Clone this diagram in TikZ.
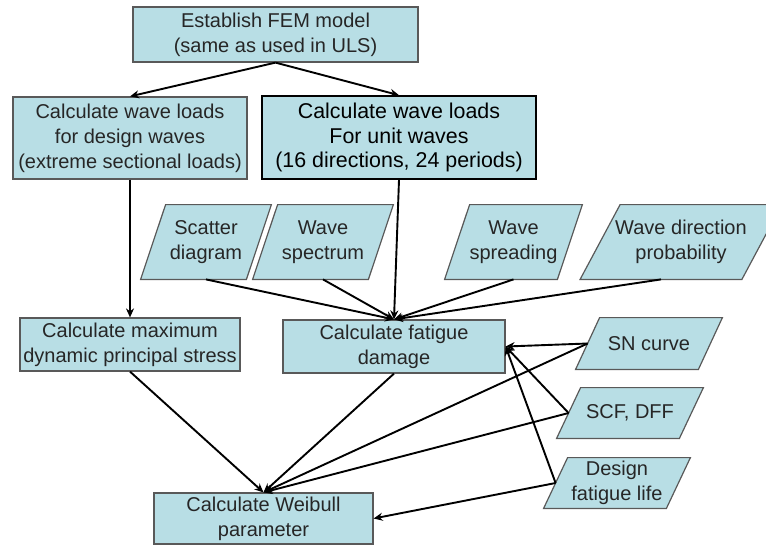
\documentclass[tikz,border=0pt]{standalone}
\usepackage{fontspec}
\setmainfont{Liberation Sans}
\usetikzlibrary{arrows.meta}
\usetikzlibrary{backgrounds}
\definecolor{mfill}{rgb}{0.72, 0.87, 0.9}
\definecolor{medge}{rgb}{0.35, 0.35, 0.35}
\definecolor{mtext}{rgb}{0.15, 0.15, 0.15}
\tikzset{proc/.style = {draw = medge, fill = mfill, text = mtext, line width = 0.6pt, inner sep = 0, align = center, font = \fontsize{10}{12.5}\selectfont}}
\tikzset{data/.style = {text = mtext, inner sep = 0, align = center, font = \fontsize{10}{12.5}\selectfont}}
\tikzset{slab/.style = {draw = medge, fill = mfill, line width = 0.6pt, line join = miter}}
\tikzset{link/.style = {line width = 0.95pt, -{Stealth[length = 4.5pt, width = 4pt]}}}

\begin{document}
\begin{tikzpicture}[x = 0.5pt, y = -0.5pt]
          \useasboundingbox (0, 0) rectangle (766, 547);
          % process boxes
          \node [proc, minimum width = 142.5pt, minimum height = 27.5pt] (fem) at (275.5, 34.5) {Establish FEM model\\(same as used in ULS)};
          \node [proc, minimum width = 117pt, minimum height = 41pt] (dsgn) at (130, 138) {Calculate wave loads\\for design waves\\(extreme sectional loads)};
          \node [proc, draw = black, text = black, line width = 0.8pt, font = \fontsize{10.7}{12.3}\selectfont, minimum width = 137pt, minimum height = 41.5pt] (unit) at (399, 137.5) {Calculate wave loads\\For unit waves\\(16 directions, 24 periods)};
          \node [proc, minimum width = 110pt, minimum height = 26.5pt] (maxs) at (130, 344.5) {Calculate maximum\\dynamic principal stress};
          \node [proc, minimum width = 111pt, minimum height = 26.5pt] (fdmg) at (394, 346.5) {Calculate fatigue\\damage};
          \node [proc, minimum width = 109.5pt, minimum height = 25.5pt] (weib) at (263.5, 518.5) {Calculate Weibull\\parameter};
          % input data
          \node [data, minimum width = 52.5pt, minimum height = 37pt] (scat) at (206, 242) {Scatter\\diagram};
          \node [data, minimum width = 57.5pt, minimum height = 37pt] (spec) at (323, 242) {Wave\\spectrum};
          \node [data, minimum width = 56pt, minimum height = 37pt] (sprd) at (513.5, 242) {Wave\\spreading};
          \node [data, minimum width = 80.5pt, minimum height = 37pt] (wdir) at (681, 242) {Wave direction\\probability};
          \node [data, minimum width = 61pt, minimum height = 25.5pt] (sncv) at (649, 343.5) {SN curve};
          \node [data, minimum width = 61pt, minimum height = 25pt] (scfd) at (630, 413) {SCF, DFF};
          \node [data, minimum width = 61pt, minimum height = 25pt] (dfl) at (617, 483) {Design\\fatigue life};
          \begin{scope}[on background layer]
            \foreach \n/\o in {scat/6.25pt, spec/6.25pt, sprd/6.25pt, wdir/10pt, sncv/6pt, scfd/6pt, dfl/6pt} {
              \draw [slab] ([xshift = -\o]\n.south west) -- ([xshift = \o]\n.north west) -- ([xshift = \o]\n.north east) -- ([xshift = -\o]\n.south east) -- cycle;
            }
          \end{scope}
          % connectors
          \draw [link] (fem.south) -- (dsgn.north);
          \draw [link] (fem.south) -- (unit.north);
          \draw [link] (dsgn.south) -- (maxs.north);
          \draw [link] (unit.south) -- (fdmg.north);
          \foreach \x in {scat, spec, sprd} {
            \draw [link] (\x.south) -- (fdmg.north);
          }
          \draw [link] ([xshift = -10pt]wdir.south) -- (fdmg.north);
          \foreach \x in {sncv, scfd, dfl} {
            \draw [link] (\x.west) -- (fdmg.east);
          }
          \foreach \x in {maxs.south, fdmg.south, sncv.west, scfd.west} {
            \draw [link] (\x) -- (weib.north);
          }
          \draw [link] (dfl.west) -- (weib.east);
        \end{tikzpicture}
\end{document}
